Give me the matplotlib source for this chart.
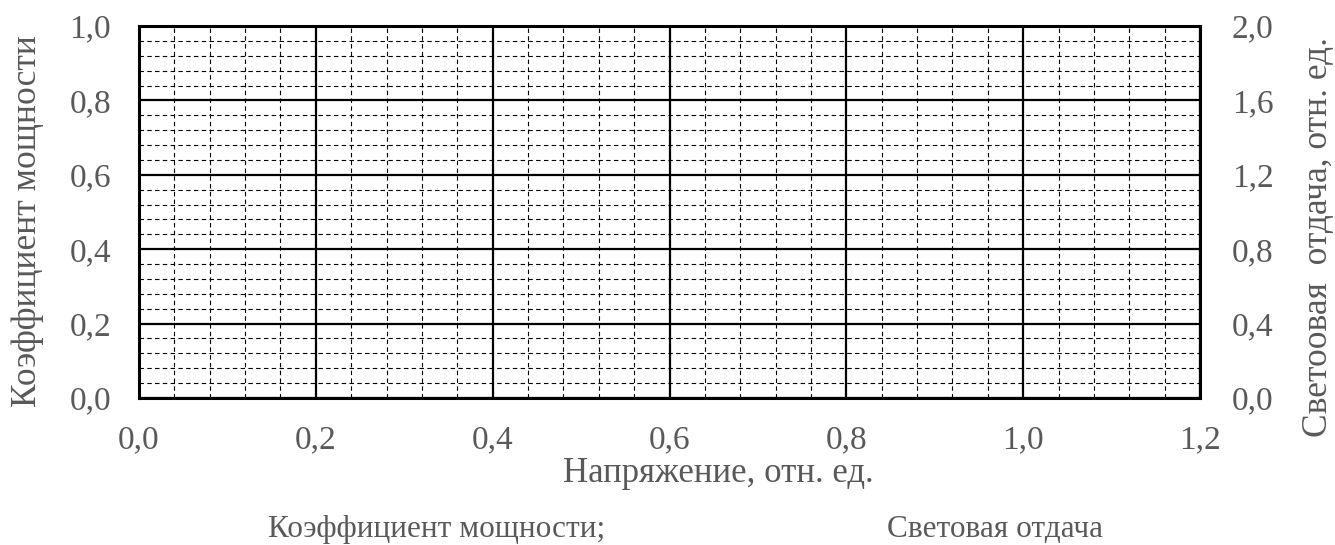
import matplotlib
matplotlib.use("Agg")
import matplotlib.pyplot as plt
import numpy as np

plt.rcParams['font.family'] = ['Liberation Serif', 'DejaVu Serif']

# оси
x_ticks = [0.0, 0.2, 0.4, 0.6, 0.8, 1.0, 1.2]
y_ticks = [0.0, 0.2, 0.4, 0.6, 0.8, 1.0]
y2_ticks = [0.0, 0.4, 0.8, 1.2, 1.6, 2.0]
x_minor = np.arange(0, 1.2001, 0.04)
y_minor = np.arange(0, 1.0001, 0.04)

x_label = "Напряжение, отн. ед."
y_label = "Коэффициент мощности"
y2_label = "Светоовая  отдача, отн. ед."
legend_names = ["Коэффициент мощности;", "Световая отдача"]

grey = '#595959'

fig = plt.figure(figsize=(13.35, 5.45), dpi=100)
ax = fig.add_axes([139/1335, 1 - 398/545, (1200-139)/1335, (398-26)/545])
ax.set_xlim(0, 1.2)
ax.set_ylim(0, 1.0)

# сетка
ax.set_xticks(x_ticks)
ax.set_yticks(y_ticks)
ax.set_xticks(x_minor, minor=True)
ax.set_yticks(y_minor, minor=True)
ax.grid(which='minor', color='black', linestyle=(0, (4, 3)), linewidth=0.8)
ax.grid(which='major', color='black', linestyle='-', linewidth=1.6)
ax.set_axisbelow(True)

fmt = lambda v: f"{v:.1f}".replace('.', ',')
ax.set_xticklabels([fmt(v) for v in x_ticks])
ax.set_yticklabels([fmt(v) for v in y_ticks])
ax.tick_params(which='both', length=0)
ax.tick_params(axis='x', pad=19, labelsize=24, labelcolor=grey)
ax.tick_params(axis='y', pad=20, labelsize=24, labelcolor=grey)
for s in ax.spines.values():
    s.set_linewidth(2.2)
    s.set_color('black')

ax2 = ax.twinx()
ax2.set_ylim(0, 2.0)
ax2.set_yticks(y2_ticks)
ax2.set_yticklabels([fmt(v) for v in y2_ticks])
ax2.tick_params(length=0, pad=23, labelsize=24, labelcolor=grey)
for s in ax2.spines.values():
    s.set_visible(False)

fig.text(563/1335, 1 - 482/545, x_label, ha='left', va='baseline', fontsize=25, color=grey)
fig.text(28/1335, 1 - 221/545, y_label, ha='center', va='center', rotation=90, fontsize=25.5, color=grey)
fig.text(1318/1335, 1 - 237/545, y2_label, ha='center', va='center', rotation=90, fontsize=25.5, color=grey)

fig.text(268/1335, 1 - 537/545, legend_names[0], ha='left', va='baseline', fontsize=22.5, color=grey)
fig.text(887/1335, 1 - 537/545, legend_names[1], ha='left', va='baseline', fontsize=22.5, color=grey)

fig.savefig("out.png", dpi=100)
